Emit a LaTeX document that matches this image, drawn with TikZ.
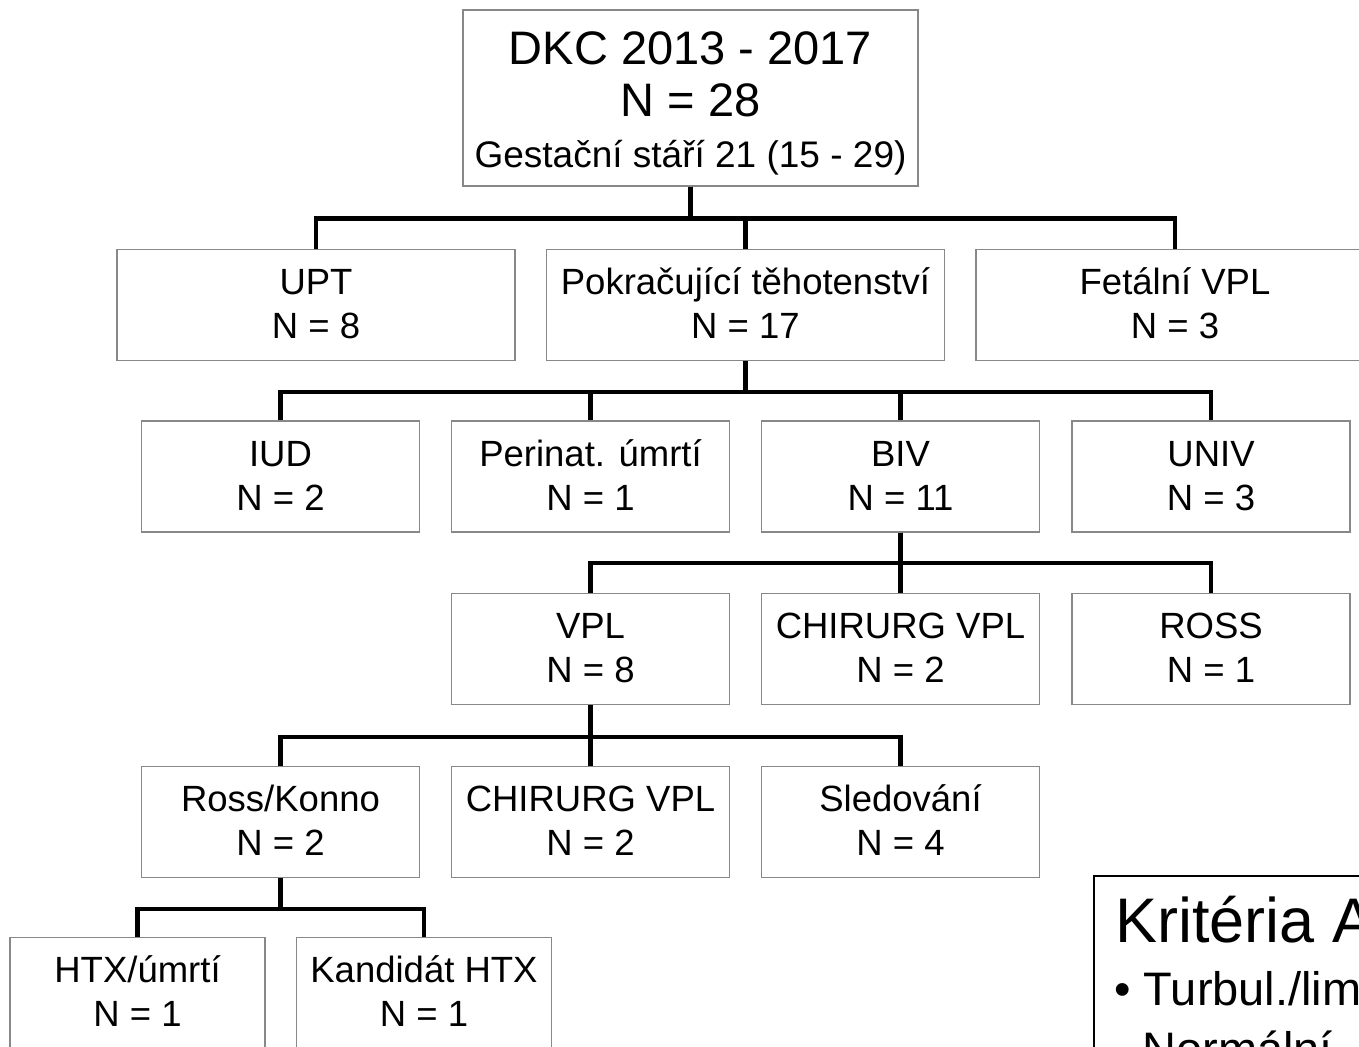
\documentclass[tikz,border=0pt]{standalone}
\usepackage{fontspec}
\setmainfont{Liberation Sans}
\definecolor{boxgray}{RGB}{136,136,136}
\tikzset{
  box/.style={draw=boxgray, line width=0.7pt, fill=white, inner sep=0pt, align=center,
    font=\fontsize{18.25}{22}\selectfont, minimum height=55.5pt},
  wbox/.style={box, minimum width=199pt},
  nbox/.style={box, minimum width=139pt},
  sbox/.style={box, minimum width=127.5pt},
  conn/.style={line width=2.2pt, line join=miter},
  txt/.style={inner sep=0pt, anchor=base},
}
\newcommand\twol[2]{\rule{0pt}{18.4pt}#1\\\strut #2}
\begin{document}
\begin{tikzpicture}[x=0.5pt,y=-0.5pt]
\useasboundingbox (0,0) rectangle (1359,1047);
\clip (0,0) rectangle (1359,1047);
% root
\node[box, minimum width=227.5pt, minimum height=88pt] (root) at (690.5,98) {};
\node[txt, font=\fontsize{23.5}{28}\selectfont] (rootA) at (690.5,65) {DKC 2013 - 2017};
\node[txt, font=\fontsize{23.5}{28}\selectfont] (rootB) at (690.5,117) {N = 28};
\node[txt, font=\fontsize{18.5}{22}\selectfont] (rootC) at (690.5,168) {Gestační stáří 21 (15 - 29)};
% level 1
\node[wbox] (upt) at (316,305) {\twol{UPT}{N = 8}};
\node[wbox] (pok) at (745.5,305) {\twol{Pokračující těhotenství}{N = 17}};
\node[wbox] (fet) at (1175,305) {\twol{Fetální VPL}{N = 3}};
% level 2
\node[nbox] (iud) at (280.5,476.5) {\twol{IUD}{N = 2}};
\node[nbox] (per) at (590.5,476.5) {\twol{Perinat. úmrtí}{N = 1}};
\node[nbox] (biv) at (900.5,476.5) {\twol{BIV}{N = 11}};
\node[nbox] (univ) at (1211,476.5) {\twol{UNIV}{N = 3}};
% level 3
\node[nbox] (vpl) at (590.5,649) {\twol{VPL}{N = 8}};
\node[nbox] (chir) at (900.5,649) {\twol{CHIRURG VPL}{N = 2}};
\node[nbox] (ross) at (1211,649) {\twol{ROSS}{N = 1}};
% level 4
\node[nbox] (rk) at (280.5,822) {\twol{Ross/Konno}{N = 2}};
\node[nbox] (chirb) at (590.5,822) {\twol{CHIRURG VPL}{N = 2}};
\node[nbox] (sled) at (900.5,822) {\twol{Sledování}{N = 4}};
% level 5
\node[sbox] (htx) at (137.5,993) {\twol{HTX/úmrtí}{N = 1}};
\node[sbox] (kand) at (424,993) {\twol{Kandidát HTX}{N = 1}};
% connectors
\foreach \c in {upt,pok,fet} \draw[conn] (root.south) -- ++(0,32) -| (\c.north);
\foreach \c in {iud,per,biv,univ} \draw[conn] (pok.south) -- ++(0,31) -| (\c.north);
\foreach \c in {vpl,chir,ross} \draw[conn] (biv.south) -- ++(0,30) -| (\c.north);
\foreach \c in {rk,chirb,sled} \draw[conn] (vpl.south) -- ++(0,32) -| (\c.north);
\foreach \c in {htx,kand} \draw[conn] (rk.south) -- ++(0,31) -| (\c.north);
% criteria box
\node[draw=black, line width=1pt, anchor=north west, inner sep=0pt, minimum width=170pt, minimum height=120pt] (krit) at (1093,875) {};
\node[txt, anchor=base west, font=\fontsize{31.5}{34}\selectfont] (kritA) at (1115,942) {Kritéria A};
\node[txt, anchor=base west, font=\fontsize{23.5}{30}\selectfont] (kritB) at (1114,1005) {\textbullet\ Turbul./lim};
\node[txt, anchor=base west, font=\fontsize{23.5}{30}\selectfont] (kritC) at (1142,1065) {Normální};
\end{tikzpicture}
\end{document}
